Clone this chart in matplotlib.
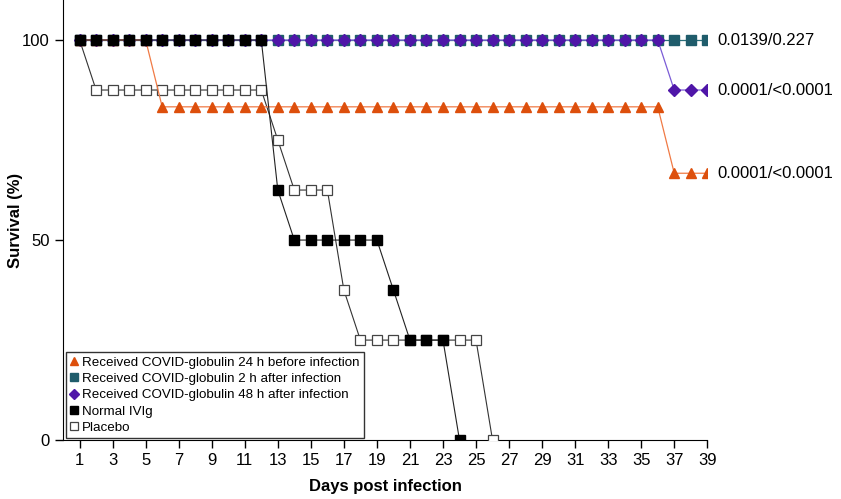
import numpy as np
import matplotlib.pyplot as plt

plt.rcParams['font.family'] = ['Liberation Sans', 'DejaVu Sans']

days = np.arange(1, 40)

# survival (%) per day
before_24h = [100] * 5 + [83.3] * 31 + [66.7] * 3
after_2h = [100] * 39
after_48h = [100] * 36 + [87.5] * 3
normal_ivig = [100] * 12 + [62.5] + [50] * 6 + [37.5] + [25] * 3 + [0]
placebo = [100] + [87.5] * 11 + [75] + [62.5] * 3 + [37.5] + [25] * 8 + [0]

p_labels = ['0.0139/0.227', '0.0001/<0.0001', '0.0001/<0.0001']
p_yvals = [100, 87.5, 66.7]

fig = plt.figure(figsize=(8.41, 4.99), dpi=100)
ax = fig.add_axes([0.075, 0.118, 0.766, 0.882])

ax.plot(days, after_2h, color='#2a6f7a', lw=0.9, marker='s', ms=7,
        mfc='#1f5c6b', mec='#1f5c6b', label='Received COVID-globulin 2 h after infection', zorder=2)
ax.plot(days, after_48h, color='#7b5cd6', lw=0.9, marker='D', ms=6.5,
        mfc='#4f16a8', mec='#4f16a8', label='Received COVID-globulin 48 h after infection', zorder=3)
ax.plot(days[:len(placebo)], placebo, color='#333333', lw=0.8, marker='s', ms=7.5,
        mfc='white', mec='#444444', mew=0.9, label='Placebo', zorder=4)
ax.plot(days, before_24h, color='#f07a45', lw=0.9, marker='^', ms=7,
        mfc='#dd4f0c', mec='#dd4f0c', label='Received COVID-globulin 24 h before infection', zorder=5)
ax.plot(days[:len(normal_ivig)], normal_ivig, color='#222222', lw=0.8, marker='s', ms=7.5,
        mfc='black', mec='black', label='Normal IVIg', zorder=6)

for lab, yv in zip(p_labels, p_yvals):
    ax.annotate(lab, xy=(39, yv), xytext=(7, 0), textcoords='offset points',
                va='center', ha='left', fontsize=12, annotation_clip=False)

ax.set_xlim(0, 39)
ax.set_ylim(0, 110)
ax.set_xticks(np.arange(1, 40, 2))
ax.set_yticks([0, 50, 100])
ax.tick_params(axis='both', labelsize=12, length=6, width=1, direction='out')
ax.spines['top'].set_visible(False)
ax.spines['right'].set_visible(False)
ax.set_xlabel('Days post infection', fontsize=12, fontweight='bold', labelpad=8)
ax.set_ylabel('Survival (%)', fontsize=12, fontweight='bold')
ax.yaxis.set_label_coords(-0.062, 0.5)

handles, labels = ax.get_legend_handles_labels()
order = [3, 0, 1, 4, 2]
leg = ax.legend([handles[i] for i in order], [labels[i] for i in order],
                loc='lower left', bbox_to_anchor=(0.005, 0.005), borderaxespad=0,
                fontsize=9.6, frameon=True, fancybox=False, edgecolor='black',
                handlelength=0.6, handletextpad=0.3, labelspacing=0.3,
                borderpad=0.3, markerscale=0.8)
leg.get_frame().set_linewidth(1)
for h in leg.get_lines():
    h.set_linestyle('none')

fig.savefig('out.png', dpi=100)
